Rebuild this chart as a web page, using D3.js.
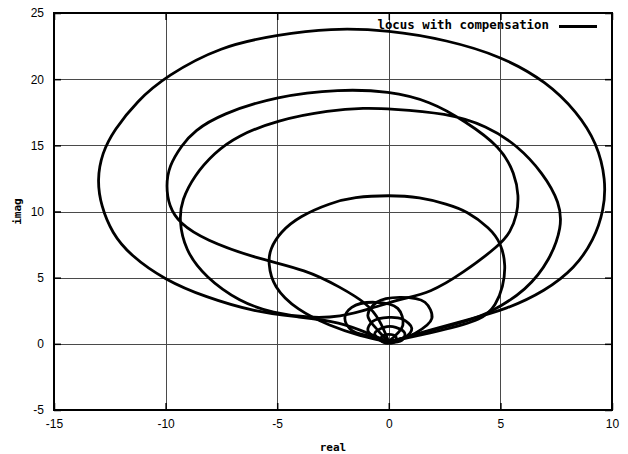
<!DOCTYPE html>
<html>
<head>
<meta charset="utf-8">
<script src="https://cdn.jsdelivr.net/npm/d3@7"></script>
<style>
  body { margin: 0; background: #fff; }
  svg { display: block; }
</style>
</head>
<body>
<div id="chart"></div>
<script>
// locus as [real, imag]; every loop leaves and returns near the origin
const loopA = [
  [0, 0.14], [0.95, 0.59], [1.85, 1.04], [3.50, 1.80], [5.30, 2.63], [7.00, 3.99], [8.34, 5.73],
  [9.19, 7.84], [9.64, 10.11], [9.73, 12.38], [9.33, 15.17], [8.43, 17.52], [7.09, 19.78],
  [5.03, 21.75], [2.61, 22.96], [0.01, 23.71], [-2.63, 23.86], [-5.01, 23.34], [-7.52, 22.50],
  [-9.98, 20.24], [-11.28, 18.35], [-12.31, 16.16], [-12.85, 14.42], [-13.07, 12.38],
  [-12.89, 10.41], [-12.40, 8.37], [-11.60, 6.71], [-10.03, 4.82], [-8.23, 3.54], [-5.99, 2.40],
  [-3.98, 2.03], [-2.19, 1.65], [-0.84, 0.74], [0, 0.14]
];
// third loop running straight into the second one
const loopCB = [
  [0, 0.14], [1.85, 0.97], [3.50, 1.72], [4.53, 2.33], [6.19, 4.07], [7.22, 6.33], [7.76, 8.83],
  [7.67, 10.64], [6.91, 12.91], [5.74, 15.02], [4.40, 16.46], [2.61, 17.44], [0.01, 17.77],
  [-1.07, 17.82], [-2.63, 17.67], [-5.01, 16.91], [-6.80, 15.70], [-7.83, 14.42], [-8.73, 12.68],
  [-9.27, 10.87], [-9.40, 9.36], [-9.13, 7.09], [-8.23, 5.05], [-6.67, 3.16], [-5.19, 2.33],
  [-3.53, 1.95], [-2.19, 2.03], [-0.84, 2.63], [0.50, 3.39], [1.85, 3.84], [3.32, 5.35],
  [4.98, 7.47], [5.45, 8.45], [5.74, 9.73], [5.83, 11.17], [5.65, 12.83], [5.03, 14.87], [3.41, 16.84],
  [1.85, 18.35], [0.01, 19.10], [-2.19, 19.25], [-5.01, 18.73], [-7.52, 17.36], [-8.73, 16.08],
  [-9.27, 15.02], [-9.85, 13.44], [-9.98, 11.92], [-9.85, 10.41], [-9.40, 9.13], [-8.23, 7.84],
  [-5.99, 6.48], [-3.66, 5.58], [-2.19, 4.29], [-0.98, 3.08], [-0.39, 1.80], [0, 0.14]
];
const loopD = [
  [0, 0.14], [2.29, 0.97], [4.22, 1.80], [4.80, 2.93], [5.12, 4.29], [5.25, 5.95], [5.03, 7.62],
  [4.53, 8.75], [3.50, 10.04], [2.61, 10.56], [1.40, 11.09], [0.01, 11.24], [-1.56, 11.09],
  [-2.63, 10.64], [-3.98, 9.66], [-4.87, 8.45], [-5.32, 7.16], [-5.41, 6.18], [-5.19, 4.29],
  [-4.11, 2.55], [-2.63, 1.35], [-1.29, 0.59], [0, 0.14]
];
const loopE1 = [[0, 0.19], [0.63, 1.40], [0.40, 2.68], [-0.63, 3.14], [-1.66, 2.76], [-1.97, 1.93], [-1.66, 1.02], [-0.85, 0.57], [0, 0.19]];
const loopE2 = [[0, 0.19], [1.17, 0.79], [1.93, 1.93], [1.62, 3.14], [0.49, 3.51], [-0.54, 3.14], [-0.94, 2.15], [-0.49, 1.02], [0, 0.19]];
const loopE3 = [[0, 0.19], [0.72, 0.49], [1.03, 1.17], [0.63, 1.85], [0, 2.00], [-0.72, 1.70], [-0.94, 1.02], [-0.54, 0.42], [0, 0.19]];
const loopE4 = [[0, 0.11], [0.58, 0.26], [0.72, 0.79], [0.31, 1.25], [-0.22, 1.25], [-0.63, 0.79], [-0.40, 0.26], [0, 0.11]];
const loopE5 = [[0, 0.04], [0.31, 0.19], [0.31, 0.57], [0, 0.72], [-0.31, 0.57], [-0.31, 0.19], [0, 0.04]];

const xTicks = [-15, -10, -5, 0, 5, 10];
const xTickLabels = ["-15", "-10", "-5", "0", "5", "10"];
const yTicks = [-5, 0, 5, 10, 15, 20, 25];
const yTickLabels = ["-5", "0", "5", "10", "15", "20", "25"];
const legendLabel = "locus with compensation";

const W = 628, H = 454;
const margin = { top: 13, right: 16, bottom: 44, left: 54 };
const width = W - margin.left - margin.right,
      height = H - margin.top - margin.bottom;

const svg = d3.select("#chart").append("svg")
  .attr("width", W)
  .attr("height", H);

const g = svg.append("g")
  .attr("transform", `translate(${margin.left},${margin.top})`);

const x = d3.scaleLinear().domain([-15, 10]).range([0, width]);
const y = d3.scaleLinear().domain([-5, 25]).range([height, 0]);

// grid
g.append("g").selectAll("line")
  .data(xTicks.slice(1, -1))
  .enter().append("line")
  .attr("x1", d => Math.round(x(d)) + 0.5).attr("x2", d => Math.round(x(d)) + 0.5)
  .attr("y1", 0).attr("y2", height)
  .attr("stroke", "#4a4a4a").attr("stroke-width", 1);
g.append("g").selectAll("line")
  .data(yTicks.slice(1, -1))
  .enter().append("line")
  .attr("y1", d => Math.round(y(d)) + 0.5).attr("y2", d => Math.round(y(d)) + 0.5)
  .attr("x1", 0).attr("x2", width)
  .attr("stroke", "#4a4a4a").attr("stroke-width", 1);

// locus: big loops smoothed with a b-spline, small ones through their points
const smooth = d3.line()
  .x(d => x(d[0]))
  .y(d => y(d[1]))
  .curve(d3.curveBasis);
const tight = d3.line()
  .x(d => x(d[0]))
  .y(d => y(d[1]))
  .curve(d3.curveCatmullRom.alpha(0.5));

const locus = g.append("g")
  .attr("fill", "none")
  .attr("stroke", "#000")
  .attr("stroke-width", 2.8)
  .attr("stroke-linejoin", "round");

locus.selectAll("path.big")
  .data([loopA, loopCB, loopD])
  .enter().append("path")
  .attr("class", "big")
  .attr("d", smooth);
locus.selectAll("path.small")
  .data([loopE1, loopE2, loopE3, loopE4, loopE5])
  .enter().append("path")
  .attr("class", "small")
  .attr("d", tight);

// axes with inward ticks, mirrored on top and right
const styleAxis = sel => {
  sel.select(".domain").remove();
  sel.selectAll(".tick line").attr("stroke", "#000").attr("stroke-width", 1.5);
  sel.selectAll("text")
    .attr("font-family", "'Liberation Sans', Arial, sans-serif")
    .attr("font-size", 12)
    .attr("fill", "#000");
};

g.append("g")
  .attr("transform", `translate(0,${height})`)
  .call(d3.axisBottom(x).tickValues(xTicks).tickFormat((d, i) => xTickLabels[i])
    .tickSizeInner(-7).tickSizeOuter(0).tickPadding(9))
  .call(styleAxis);
g.append("g")
  .call(d3.axisLeft(y).tickValues(yTicks).tickFormat((d, i) => yTickLabels[i])
    .tickSizeInner(-7).tickSizeOuter(0).tickPadding(10))
  .call(styleAxis);
g.append("g")
  .call(d3.axisTop(x).tickValues(xTicks).tickFormat("").tickSizeInner(-7).tickSizeOuter(0))
  .call(styleAxis);
g.append("g")
  .attr("transform", `translate(${width},0)`)
  .call(d3.axisRight(y).tickValues(yTicks).tickFormat("").tickSizeInner(-7).tickSizeOuter(0))
  .call(styleAxis);

g.append("rect")
  .attr("width", width).attr("height", height)
  .attr("fill", "none").attr("stroke", "#000").attr("stroke-width", 2);

// legend
const mono = "'DejaVu Sans Mono', 'Liberation Mono', monospace";
svg.append("text")
  .attr("x", 549).attr("y", 25).attr("dy", "0.35em")
  .attr("text-anchor", "end")
  .attr("font-family", mono).attr("font-weight", "bold").attr("font-size", 12.4)
  .text(legendLabel);
svg.append("line")
  .attr("x1", 559).attr("x2", 597).attr("y1", 26.5).attr("y2", 26.5)
  .attr("stroke", "#000").attr("stroke-width", 2.8);

// axis labels
svg.append("text")
  .attr("x", margin.left + width / 2).attr("y", 447).attr("dy", "0.35em")
  .attr("text-anchor", "middle")
  .attr("font-family", mono).attr("font-weight", "bold").attr("font-size", 11)
  .text("real");
svg.append("text")
  .attr("transform", `translate(17,${margin.top + height / 2}) rotate(-90)`)
  .attr("dy", "0.35em")
  .attr("text-anchor", "middle")
  .attr("font-family", mono).attr("font-weight", "bold").attr("font-size", 11)
  .text("imag");
</script>
</body>
</html>
